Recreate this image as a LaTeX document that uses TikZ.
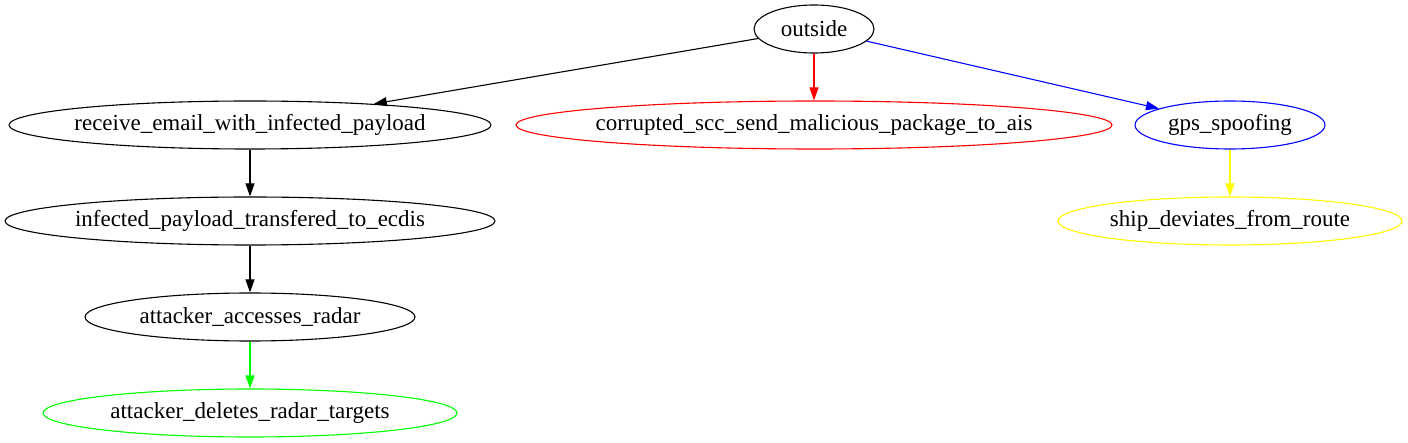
\documentclass[tikz,border=0pt]{standalone}
\usepackage{fontspec}
\setmainfont{Liberation Serif}
\usetikzlibrary{shapes.geometric,arrows.meta}
\definecolor{gvyellow}{RGB}{255,255,0}
\definecolor{gvgreen}{RGB}{0,255,0}
\definecolor{gvred}{RGB}{255,0,0}
\definecolor{gvblue}{RGB}{0,0,255}
\begin{document}
\begin{tikzpicture}[x=1pt,y=-1pt,
  gvnode/.style={draw, ellipse, line width=1.1pt, inner sep=0pt, minimum height=48pt,
    font=\fontsize{23}{26}\selectfont},
  gvedge/.style={line width=1.1pt, -{Triangle[length=13pt,width=9pt]}}]
\useasboundingbox (0,0) rectangle (1408,443);
\newcommand{\lbl}[1]{\makebox[0pt]{#1}}
\node[gvnode, minimum width=120pt] (out) at (814,29) {\lbl{outside}};
\node[gvnode, minimum width=482pt] (rec) at (250,125) {\lbl{receive\_email\_with\_infected\_payload}};
\node[gvnode, gvred, minimum width=596pt, text=black] (cor) at (814,125) {\lbl{corrupted\_scc\_send\_malicious\_package\_to\_ais}};
\node[gvnode, gvblue, minimum width=190pt, text=black] (gps) at (1230,125) {\lbl{gps\_spoofing}};
\node[gvnode, minimum width=490pt] (inf) at (250,221) {\lbl{infected\_payload\_transfered\_to\_ecdis}};
\node[gvnode, gvyellow, minimum width=344pt, text=black] (ship) at (1230,221) {\lbl{ship\_deviates\_from\_route}};
\node[gvnode, minimum width=330pt] (acc) at (250,317) {\lbl{attacker\_accesses\_radar}};
\node[gvnode, gvgreen, minimum width=414pt, text=black] (del) at (250,413) {\lbl{attacker\_deletes\_radar\_targets}};
\draw[gvedge] (out) -- (rec);
\draw[gvedge, gvred] (out) -- (cor);
\draw[gvedge, gvblue] (out) -- (gps);
\draw[gvedge, gvyellow] (gps) -- (ship);
\draw[gvedge] (rec) -- (inf);
\draw[gvedge] (inf) -- (acc);
\draw[gvedge, gvgreen] (acc) -- (del);
\end{tikzpicture}
\end{document}
